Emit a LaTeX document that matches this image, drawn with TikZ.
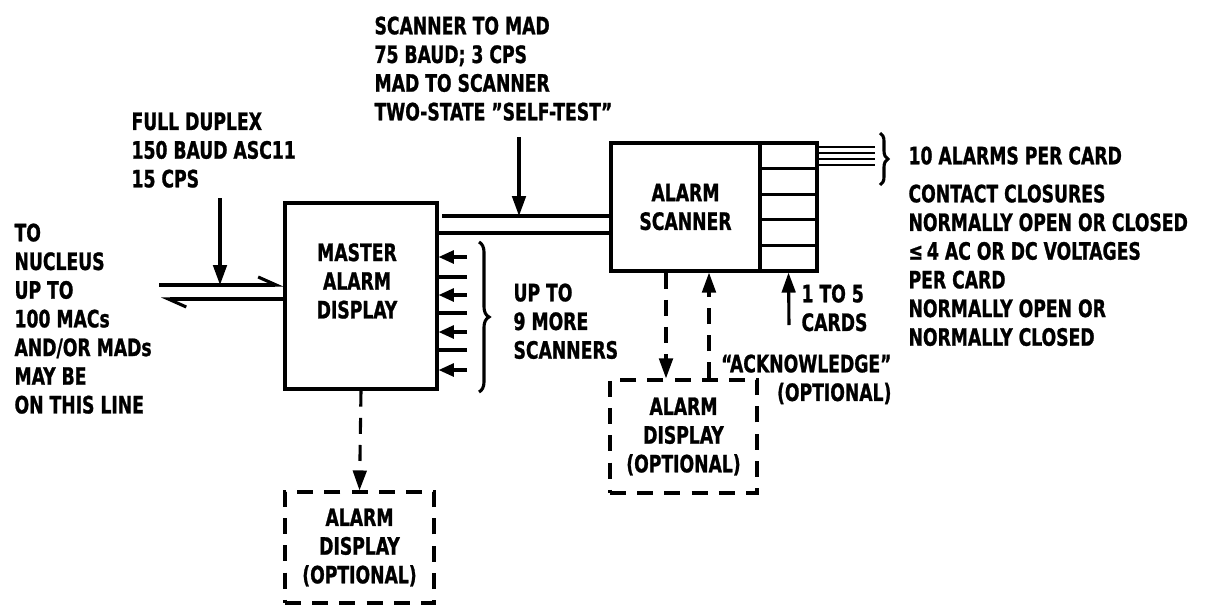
\documentclass[tikz,border=0pt]{standalone}
\usepackage{fontspec}
\setmainfont{DejaVu Sans Condensed Bold}[FakeStretch=0.8,FakeBold=1]
\usetikzlibrary{arrows.meta,decorations.pathreplacing}

\begin{document}
\begin{tikzpicture}[x=0.025cm,y=-0.025cm,line width=2.2pt,
    every node/.style={font=\fontsize{17}{20.4}\selectfont},
    lbl/.style={inner sep=0pt,align=left,anchor=north west},
    blk/.style={draw,inner sep=0pt,align=center},
    dsh/.style={dash pattern=on 0.4cm off 0.28cm},
    tip/.style={-{Triangle[length=5mm,width=3.4mm]}},
    stip/.style={-{Triangle[length=3.8mm,width=3.2mm]}},
    half/.style={-{Straight Barb[harpoon,length=4.5mm,width=4mm]}},
    brc/.style={decorate,decoration={brace,amplitude=#1}}]
  \useasboundingbox (0,0) rectangle (1209,613);

  % blocks
  \node[blk,minimum width=3.8cm,minimum height=4.65cm] (mad) at (361,296) {};
  \node[align=center,inner sep=0pt] (madtxt) at (357,281) {MASTER\\ALARM\\DISPLAY};
  \node[blk,minimum width=3.725cm,minimum height=3.2cm] (scan) at (685.5,207) {ALARM\\SCANNER};
  \foreach \i in {1,...,5}
    \node[blk,minimum width=1.425cm,minimum height=0.64cm] (card\i) at (788.5,{130.2+25.6*\i}) {};
  \node[blk,dsh,minimum width=3.725cm,minimum height=2.775cm] (disp1) at (359.5,547.5) {ALARM\\DISPLAY\\(OPTIONAL)};
  \node[blk,dsh,minimum width=3.675cm,minimum height=2.825cm] (disp2) at (683.5,436.5) {ALARM\\DISPLAY\\(OPTIONAL)};

  % labels
  \node[lbl] (nuc) at (13,222) {TO\\NUCLEUS\\UP TO\\100 MACs\\AND/OR MADs\\MAY BE\\ON THIS LINE};
  \node[lbl] (dup) at (130,111) {FULL DUPLEX\\150 BAUD ASC11\\15 CPS};
  \node[lbl] (smad) at (373,15) {SCANNER TO MAD\\75 BAUD; 3 CPS\\MAD TO SCANNER\\TWO-STATE ''SELF-TEST''};
  \node[lbl] (more) at (512,282) {UP TO\\9 MORE\\SCANNERS};
  \node[lbl] (alm) at (907,145) {10 ALARMS PER CARD};
  \node[lbl] (cont) at (907,183) {CONTACT CLOSURES\\NORMALLY OPEN OR CLOSED\\≤\,4 AC OR DC VOLTAGES\\PER CARD\\NORMALLY OPEN OR\\NORMALLY CLOSED};
  \node[lbl] (ncard) at (800,283) {1 TO 5\\CARDS};
  \node[lbl,anchor=north east,align=right] (ack) at (893,353) {``ACKNOWLEDGE''\\(OPTIONAL)};

  % line to nucleus
  \coordinate (dupin) at (220,285);
  \draw[half] (159,285) -- (mad.west |- dupin);
  \draw[half] (mad.west |- 0,299) -- (161,299);
  \draw[tip] (220,198) -- (dupin);

  % master to scanner
  \coordinate (smin) at (519,216);
  \draw (442,216) -- (scan.west |- smin);
  \draw (mad.east |- 0,233) -- (scan.west |- 0,233);
  \draw[tip] (519,137) -- (smin);

  % other scanners
  \foreach \y in {257,295,332,370}
    \draw[stip] (467,\y) -- (mad.east |- 0,\y);
  \foreach \y in {277,313,350}
    \draw (467,\y) -- (mad.east |- 0,\y);
  \draw[brc=0.25cm] (479,242) -- (479,392);

  % alarm inputs
  \foreach \y in {147,153,159,165}
    \draw[line width=1.5pt] (card1.east |- 0,\y) -- (875,\y);
  \draw[brc=0.2cm] (880,133) -- (880,185);
  \draw[tip] (789,325) -- (card5.south);

  % optional displays
  \draw[tip,dsh] (mad.south) -- (disp1.north);
  \draw[tip,dsh] (scan.south -| 666,0) -- (disp2.north -| 666,0);
  \draw[tip,dsh] (disp2.north -| 709,0) -- (scan.south -| 709,0);
\end{tikzpicture}
\end{document}
